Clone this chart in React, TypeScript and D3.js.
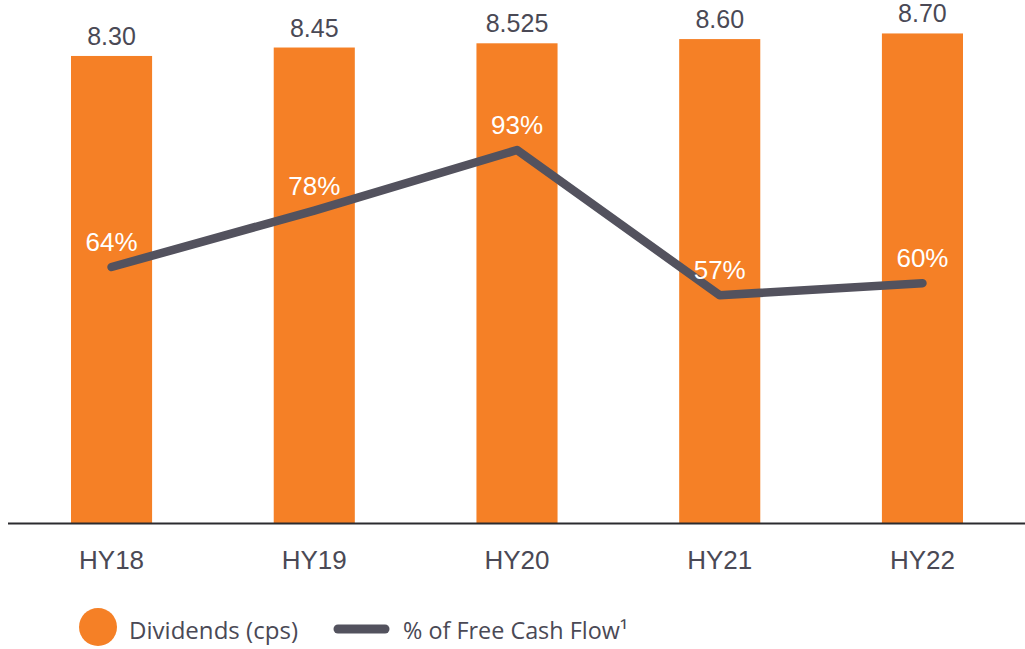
import React from "react";
import * as d3 from "d3";

const categories = ["HY18", "HY19", "HY20", "HY21", "HY22"];
const dividends = [8.3, 8.45, 8.525, 8.6, 8.7];
const dividendLabels = ["8.30", "8.45", "8.525", "8.60", "8.70"];
const fcfPct = [64, 78, 93, 57, 60];
const legendLabels = ["Dividends (cps)", "% of Free Cash Flow¹"];

const W = 1025;
const H = 649;
const ORANGE = "#F58026";
const DARK = "#53525E";
const TEXT = "#4A4955";
const FONT = "'Liberation Sans', Arial, Helvetica, sans-serif";
const LEGEND_FONT = "'Open Sans', 'Noto Sans', sans-serif";

export default function App() {
  const x = d3.scaleBand<string>().domain(categories).range([71, 963]).paddingInner(0.6).paddingOuter(0);
  const yBar = d3.scaleLinear().domain([0, 9]).range([523, 523 - 9 * 56.27]);
  const yLine = d3.scaleLinear().domain([0, 100]).range([525.2, 525.2 - 403.4]);
  const cx = (c: string) => (x(c) as number) + x.bandwidth() / 2;

  const line = d3
    .line<number>()
    .x((_, i) => cx(categories[i]))
    .y((d) => yLine(d));

  return (
    <svg
      width={W}
      height={H}
      style={{ position: "absolute", left: 0, top: 0, background: "#fff" }}
    >
      {categories.map((c, i) => (
        <rect
          key={c}
          x={x(c)}
          y={yBar(dividends[i])}
          width={x.bandwidth()}
          height={yBar(0) - yBar(dividends[i])}
          fill={ORANGE}
        />
      ))}
      <line x1={8} x2={W} y1={523.5} y2={523.5} stroke="#2b2b2f" strokeWidth={2} />
      {categories.map((c, i) => (
        <text
          key={"v" + c}
          x={cx(c)}
          y={yBar(dividends[i]) - 11}
          textAnchor="middle"
          fontFamily={FONT}
          fontSize={25}
          fill={TEXT}
        >
          {dividendLabels[i]}
        </text>
      ))}
      <path
        d={line(fcfPct) || ""}
        fill="none"
        stroke={DARK}
        strokeWidth={8.5}
        strokeLinejoin="round"
        strokeLinecap="round"
      />
      {categories.map((c, i) => (
        <text
          key={"p" + c}
          x={cx(c)}
          y={yLine(fcfPct[i]) - 16}
          textAnchor="middle"
          fontFamily={FONT}
          fontSize={26}
          fill="#ffffff"
        >
          {fcfPct[i] + "%"}
        </text>
      ))}
      {categories.map((c) => (
        <text
          key={"x" + c}
          x={cx(c)}
          y={569}
          textAnchor="middle"
          fontFamily={FONT}
          fontSize={26}
          fill={TEXT}
        >
          {c}
        </text>
      ))}
      <circle cx={98} cy={627} r={19} fill={ORANGE} />
      <text
        x={129}
        y={639}
        fontFamily={LEGEND_FONT}
        fontSize={23}
        fill={TEXT}
        textLength={169}
        lengthAdjust="spacingAndGlyphs"
      >
        {legendLabels[0]}
      </text>
      <line x1={338} x2={385} y1={629} y2={629} stroke={DARK} strokeWidth={9} strokeLinecap="round" />
      <text
        x={403}
        y={639}
        fontFamily={LEGEND_FONT}
        fontSize={23}
        fill={TEXT}
        textLength={225}
        lengthAdjust="spacingAndGlyphs"
      >
        {legendLabels[1]}
      </text>
    </svg>
  );
}
